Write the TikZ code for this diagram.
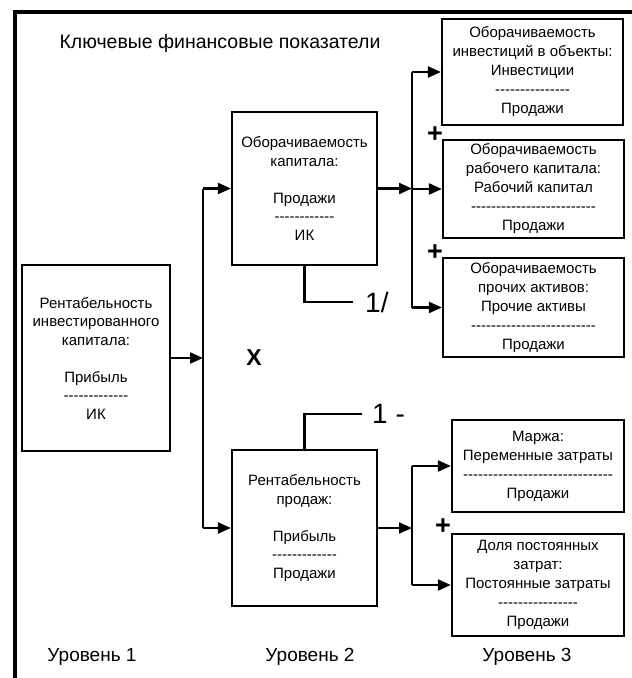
\documentclass[tikz,border=0pt]{standalone}
\usepackage{fontspec}
\setmainfont{Liberation Sans}
\usetikzlibrary{arrows.meta}
\ExplSyntaxOn
\cs_new:Npn \hyphrow #1 { \prg_replicate:nn {#1} { -\kern0pt } }
\ExplSyntaxOff
\begin{document}
\begin{tikzpicture}[x=1pt,y=-1pt,
  box/.style={draw,line width=2.2pt,fill=white,align=center,inner sep=0pt,
    font=\fontsize{15}{18.5}\selectfont},
  boxb/.style={box,font=\fontsize{15}{19}\selectfont},
  ln/.style={line width=2.2pt},
  arr/.style={line width=2.2pt,-{Triangle[length=13pt,width=11pt]}},
  lvl/.style={font=\fontsize{19}{22}\selectfont},
  big/.style={font=\fontsize{28}{30}\selectfont,anchor=west,inner ysep=0pt,inner xsep=12pt},
  plus/.style={font=\bfseries\fontsize{27}{27}\selectfont,inner sep=0pt}]
\useasboundingbox (0,0) rectangle (632,678);
\draw[line width=4pt] (15,680) -- (15,12) -- (634,12);
\node[font=\fontsize{19.5}{22}\selectfont] (title) at (220,43) {Ключевые финансовые показатели};
% boxes
\node[box,minimum width=148pt,minimum height=186pt] (A) at (96,358)
  {Рентабельность\\инвестированного\\капитала:\\[18.5pt]Прибыль\\\hyphrow{13}\\ИК};
\node[box,minimum width=145pt,minimum height=153pt] (B) at (304.5,188.5)
  {Оборачиваемость\\капитала:\\[18.5pt]Продажи\\\hyphrow{12}\\ИК};
\node[box,minimum width=145pt,minimum height=156pt] (C) at (304.5,528)
  {Рентабельность\\продаж:\\[18.5pt]Прибыль\\\hyphrow{13}\\Продажи};
\node[boxb,minimum width=181pt,minimum height=106pt] (D1) at (532.5,72)
  {Оборачиваемость\\инвестиций в объекты:\\Инвестиции\\\hyphrow{15}\\Продажи};
\node[boxb,minimum width=181pt,minimum height=98pt] (D2) at (533.5,189)
  {Оборачиваемость\\рабочего капитала:\\Рабочий капитал\\\hyphrow{25}\\Продажи};
\node[boxb,minimum width=181pt,minimum height=99pt] (D3) at (533.5,307.5)
  {Оборачиваемость\\прочих активов:\\Прочие активы\\\hyphrow{25}\\Продажи};
\node[boxb,minimum width=172pt,minimum height=92pt] (E1) at (538,466)
  {Маржа:\\Переменные затраты\\\hyphrow{30}\\Продажи};
\node[boxb,minimum width=172pt,minimum height=102pt] (E2) at (538,585)
  {Доля постоянных\\затрат:\\Постоянные затраты\\\hyphrow{16}\\Продажи};
% junction coordinates
\coordinate (jm) at (203,358);
\coordinate (jt) at (203,188.5);
\coordinate (jb) at (203,528);
\coordinate (rx) at (412,0);
% level 1 -> level 2
\draw[arr] (A.east) -- (jm);
\draw[ln] (jt) -- (jb);
\draw[arr] (jt) -- (B.west);
\draw[arr] (jb) -- (C.west);
% B -> D
\draw[arr] (B.east) -- (B.east -| rx);
\draw[ln] (D1.west -| rx) -- (D3.west -| rx);
\draw[arr] (D1.west -| rx) -- (D1.west);
\draw[arr] (D2.west -| rx) -- (D2.west);
\draw[arr] (D3.west -| rx) -- (D3.west);
% C -> E
\draw[arr] (C.east) -- (C.east -| rx);
\draw[ln] (E1.west -| rx) -- (E2.west -| rx);
\draw[arr] (E1.west -| rx) -- (E1.west);
\draw[arr] (E2.west -| rx) -- (E2.west);
% 1/ and 1 -
\node[big] (inv) at (353,302) {1/};
\draw[ln] (B.south) |- (inv.west);
\node[big,inner xsep=10pt] (one) at (362,414) {1 -};
\draw[ln] (C.north) |- (one.west);
% signs
\node[font=\bfseries\fontsize{23}{24}\selectfont] (mul) at (254,358) {X};
\node[plus] (p1) at (435,135) {+};
\node[plus] (p2) at (435,253) {+};
\node[plus] (p3) at (443,527) {+};
% levels
\node[lvl] (l1) at (92,657) {Уровень 1};
\node[lvl] (l2) at (310,657) {Уровень 2};
\node[lvl] (l3) at (527,657) {Уровень 3};
\end{tikzpicture}
\end{document}
